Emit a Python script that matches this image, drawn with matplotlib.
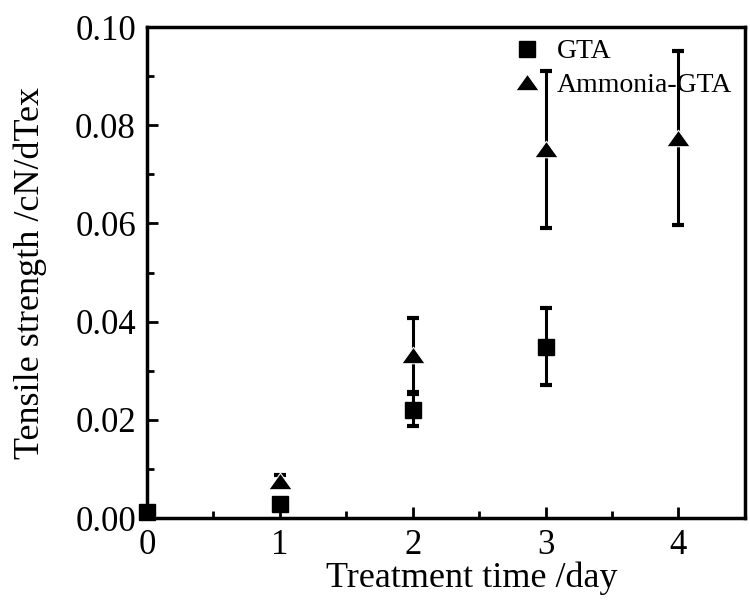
import matplotlib
matplotlib.use('Agg')
import matplotlib.pyplot as plt
from matplotlib.ticker import MultipleLocator

plt.rcParams['font.family'] = ['Liberation Serif', 'DejaVu Serif']

# data
gta_x = [0, 1, 2, 3]
gta_y = [0.0012, 0.0028, 0.0220, 0.0349]
gta_err = [0.0, 0.0, 0.0033, 0.0078]

amm_x = [1, 2, 3, 4]
amm_y = [0.0076, 0.0332, 0.0751, 0.0774]
amm_err = [0.0012, 0.0076, 0.0160, 0.0177]

# flattened triangle like the original
tri = [(-1, -0.7), (1, -0.7), (0, 0.7), (-1, -0.7)]

fig = plt.figure(figsize=(7.5, 6.01), dpi=100)
ax = fig.add_axes([0.196, 0.138, 0.797, 0.817])

g = ax.errorbar(gta_x, gta_y, yerr=gta_err, fmt='s', color='black', ms=11,
                ecolor='black', elinewidth=2.2, capsize=4, capthick=3,
                clip_on=False, zorder=3)
ax.errorbar(amm_x, amm_y, yerr=amm_err, fmt='none', ecolor='black',
            elinewidth=2.2, capsize=4, capthick=3, zorder=3)
a, = ax.plot(amm_x, amm_y, linestyle='none', marker=tri, color='black',
             ms=17, markeredgecolor='white', markeredgewidth=0.8, zorder=4)

ax.set_xlim(0, 4.5)
ax.set_ylim(0, 0.10)
ax.xaxis.set_major_locator(MultipleLocator(1))
ax.xaxis.set_minor_locator(MultipleLocator(0.5))
ax.yaxis.set_major_locator(MultipleLocator(0.02))
ax.yaxis.set_minor_locator(MultipleLocator(0.01))
ax.yaxis.set_major_formatter(plt.FuncFormatter(lambda v, p: '%.2f' % v))

ax.tick_params(which='both', direction='in', width=2, labelsize=25,
               top=False, right=False)
ax.tick_params(which='major', length=8, pad=8)
ax.tick_params(which='minor', length=5)
for s in ax.spines.values():
    s.set_linewidth(2.5)

ax.set_xlabel('Treatment time /day', fontsize=26)
ax.set_ylabel('Tensile strength /cN/dTex', fontsize=26)
ax.xaxis.set_label_coords(0.543, -0.088)
ax.yaxis.set_label_coords(-0.168, 0.5)

ax.legend([g[0], a], ['GTA', 'Ammonia-GTA'], loc='upper left',
          bbox_to_anchor=(0.612, 0.976), frameon=False, fontsize=20,
          handletextpad=0.58, labelspacing=0.3, handlelength=1.0,
          borderpad=0, borderaxespad=0)

fig.savefig('out.png', dpi=100)
